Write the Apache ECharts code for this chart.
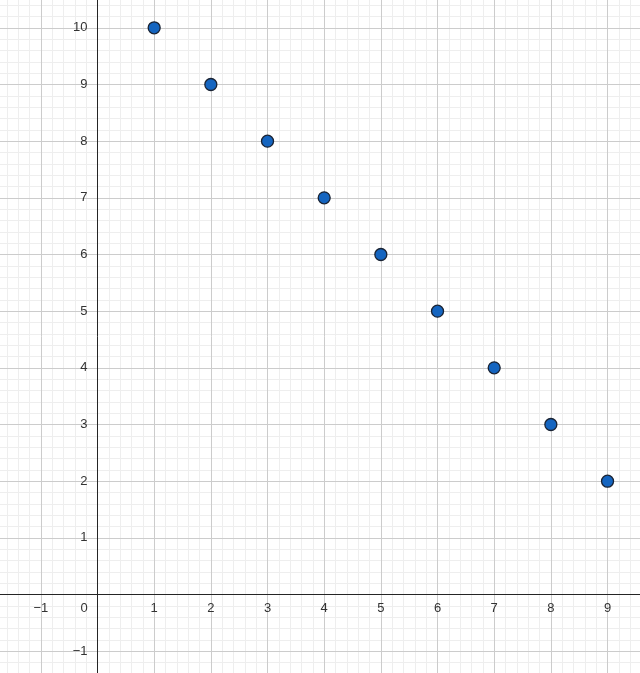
<!DOCTYPE html>
<html>
<head>
<meta charset="utf-8">
<script src="https://cdn.jsdelivr.net/npm/echarts@6/dist/echarts.min.js"></script>
<style>
html,body{margin:0;padding:0;background:#fff;}
#chart{width:640px;height:673px;}
</style>
</head>
<body>
<div id="chart"></div>
<script>
// Data
const xValues = [1, 2, 3, 4, 5, 6, 7, 8, 9];
const yValues = [10, 9, 8, 7, 6, 5, 4, 3, 2];
// Tick labels shown on each axis
const xTickLabels = [-1, 0, 1, 2, 3, 4, 5, 6, 7, 8, 9];
const yTickLabels = [-1, 1, 2, 3, 4, 5, 6, 7, 8, 9, 10];
// Visible window of the plane
const xRange = [-1.7205, 9.573];
const yRange = [-1.385, 10.491];

const W = 640, H = 673;
const points = xValues.map((x, i) => [x, yValues[i]]);
function fmt(v) { return v < 0 ? '\u2212' + Math.abs(v) : String(v); }
// pixel position of the origin inside the plot (derived from the ranges)
const x0px = (0 - xRange[0]) / (xRange[1] - xRange[0]) * W;
const y0px = (yRange[1] - 0) / (yRange[1] - yRange[0]) * H;

const labelFont = {color: '#333', fontSize: 13, fontFamily: 'Liberation Sans, Arial, sans-serif'};
const minorLine = {show: true, showMinLine: false, showMaxLine: false, lineStyle: {color: '#eeeeee', width: 1}};
const majorLine = {show: true, showMinLine: false, showMaxLine: false, lineStyle: {color: '#cccccc', width: 1}};

const chart = echarts.init(document.getElementById('chart'), null, {renderer: 'canvas'});
chart.setOption({
  animation: false,
  backgroundColor: '#ffffff',
  grid: {left: 0, right: 0, top: 0, bottom: 0, containLabel: false, outerBoundsMode: 'none'},
  xAxis: [{
    type: 'value', min: xRange[0], max: xRange[1], minInterval: 0.2, maxInterval: 0.2, z: 0,
    axisLine: {show: false}, axisTick: {show: false}, axisLabel: {show: false},
    splitLine: minorLine
  }, {
    type: 'value', min: xRange[0], max: xRange[1], minInterval: 1, maxInterval: 1, z: 1,
    position: 'bottom', offset: -(H - y0px),
    axisLine: {show: true, onZero: false, lineStyle: {color: '#252525', width: 1}},
    axisTick: {show: false},
    splitLine: majorLine,
    axisLabel: Object.assign({
      margin: 7, showMinLabel: false, showMaxLabel: false,
      formatter: function (v) {
        if (xTickLabels.indexOf(v) < 0) return '';
        return v === 0 ? '{z|0}' : fmt(v);
      },
      rich: {z: Object.assign({padding: [0, 27, 0, 0]}, labelFont)}
    }, labelFont)
  }],
  yAxis: [{
    type: 'value', min: yRange[0], max: yRange[1], minInterval: 0.2, maxInterval: 0.2, z: 0,
    axisLine: {show: false}, axisTick: {show: false}, axisLabel: {show: false},
    splitLine: minorLine
  }, {
    type: 'value', min: yRange[0], max: yRange[1], minInterval: 1, maxInterval: 1, z: 1,
    position: 'left', offset: -x0px,
    axisLine: {show: true, onZero: false, lineStyle: {color: '#252525', width: 1}},
    axisTick: {show: false},
    splitLine: majorLine,
    axisLabel: Object.assign({
      margin: 10, showMinLabel: false, showMaxLabel: false,
      formatter: function (v) {
        return yTickLabels.indexOf(v) < 0 ? '' : fmt(v);
      }
    }, labelFont)
  }],
  series: [{
    type: 'scatter',
    xAxisIndex: 1, yAxisIndex: 1,
    data: points,
    symbol: 'circle',
    symbolSize: 12,
    itemStyle: {color: '#1565c0', borderColor: '#1a2333', borderWidth: 1.3, opacity: 1},
    z: 10
  }]
});
</script>
</body>
</html>
